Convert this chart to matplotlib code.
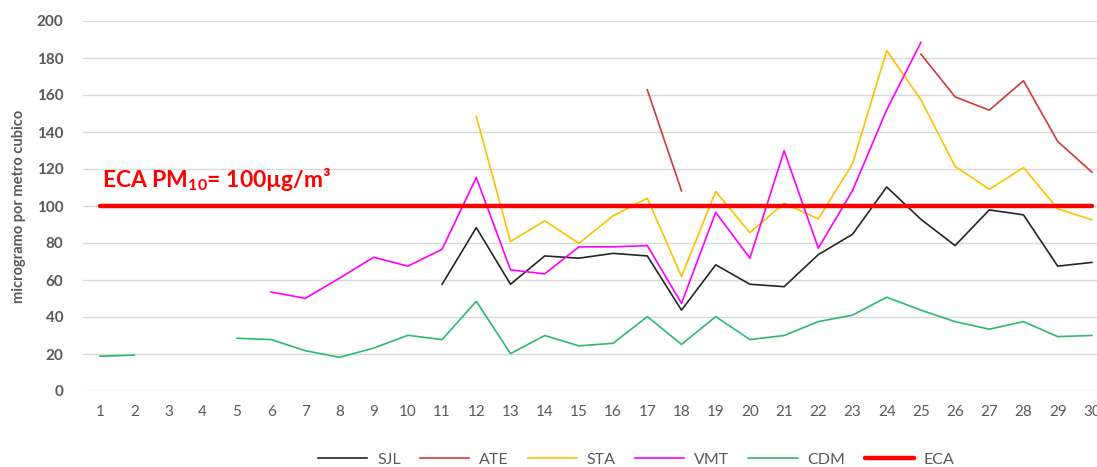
import matplotlib.pyplot as plt
import numpy as np

nan = np.nan

days = list(range(1, 31))

# one value per day (nan = no data)
sjl = [nan, nan, nan, nan, nan, nan, nan, nan, nan, nan,
       57.7, 88.3, 57.7, 73.0, 71.8, 74.4, 73.0, 43.7, 68.2, 57.7,
       56.4, 73.7, 84.7, 110.3, 92.8, 78.6, 97.9, 95.2, 67.5, 69.5]
ate = [nan, nan, nan, nan, nan, nan, nan, nan, nan, nan,
       nan, nan, nan, nan, nan, nan, 162.8, 108.2, nan, nan,
       nan, nan, nan, nan, 182.1, 159.0, 151.8, 167.7, 134.9, 118.3]
sta = [nan, nan, nan, nan, nan, nan, nan, nan, nan, nan,
       nan, 148.4, 80.8, 92.0, 79.8, 94.7, 104.2, 61.9, 107.8, 85.6,
       101.5, 93.0, 122.8, 184.0, 157.4, 121.4, 109.0, 120.8, 98.5, 92.5]
vmt = [nan, nan, nan, nan, nan, 53.5, 50.1, 61.0, 72.3, 67.5,
       76.6, 115.4, 65.5, 63.3, 77.9, 77.9, 78.6, 47.4, 96.6, 71.8,
       129.8, 77.2, 108.3, 152.0, 188.4, nan, nan, nan, nan, nan]
cdm = [18.8, 19.4, nan, nan, 28.5, 27.8, 21.8, 18.2, 23.2, 30.1,
       27.8, 48.5, 20.2, 30.0, 24.4, 25.8, 40.2, 25.2, 40.2, 27.8,
       30.0, 37.5, 41.0, 50.7, 43.7, 37.5, 33.4, 37.5, 29.4, 30.0]
eca = [100] * 30

series = [
    ("SJL", sjl, "#262626", 1.2),
    ("ATE", ate, "#D03A3A", 1.2),
    ("STA", sta, "#FFC000", 1.2),
    ("VMT", vmt, "#FF00FF", 1.2),
    ("CDM", cdm, "#2EB872", 1.2),
    ("ECA", eca, "#FF0000", 3.2),
]

plt.rcParams["font.family"] = ["Lato", "DejaVu Sans"]
plt.rcParams["mathtext.fontset"] = "custom"
plt.rcParams["mathtext.rm"] = "Lato"
plt.rcParams["mathtext.bf"] = "Lato:bold"

grey = "#595959"

fig = plt.figure(figsize=(10.97, 4.67), dpi=100)
ax = fig.add_axes([83 / 1097, 76 / 467, 1026 / 1097, 370 / 467])

for name, values, color, lw in series:
    ax.plot(days, values, color=color, linewidth=lw, label=name,
            solid_capstyle="round" if name == "ECA" else "projecting")

ax.set_xlim(0.5, 30.5)
ax.set_ylim(0, 200)
ax.set_xticks(days)
ax.set_yticks(range(0, 201, 20))
ax.grid(axis="y", color="#D9D9D9", linewidth=1)
ax.set_axisbelow(True)
for s in ax.spines.values():
    s.set_visible(False)
ax.tick_params(axis="both", length=0, colors=grey, labelsize=11)
ax.tick_params(axis="y", pad=14)
ax.tick_params(axis="x", pad=10)
for lab in ax.get_yticklabels():
    lab.set_fontweight("bold")

ax.set_ylabel("microgramo por metro cubico", color=grey, fontsize=10.5,
              fontweight="bold", labelpad=8)

ax.text(1.05, 107, r"ECA PM$_{\mathbf{10}}$= 100µg/m³", color="#FF0000",
        fontsize=16.5, fontweight="bold", va="bottom", ha="left")

fig.legend(loc="lower center", bbox_to_anchor=(0.58, -0.03), ncol=6,
           frameon=False, fontsize=11.5, handlelength=3.1, handletextpad=0.6,
           columnspacing=1.2, labelcolor=grey)

fig.savefig("out.png", dpi=100)
